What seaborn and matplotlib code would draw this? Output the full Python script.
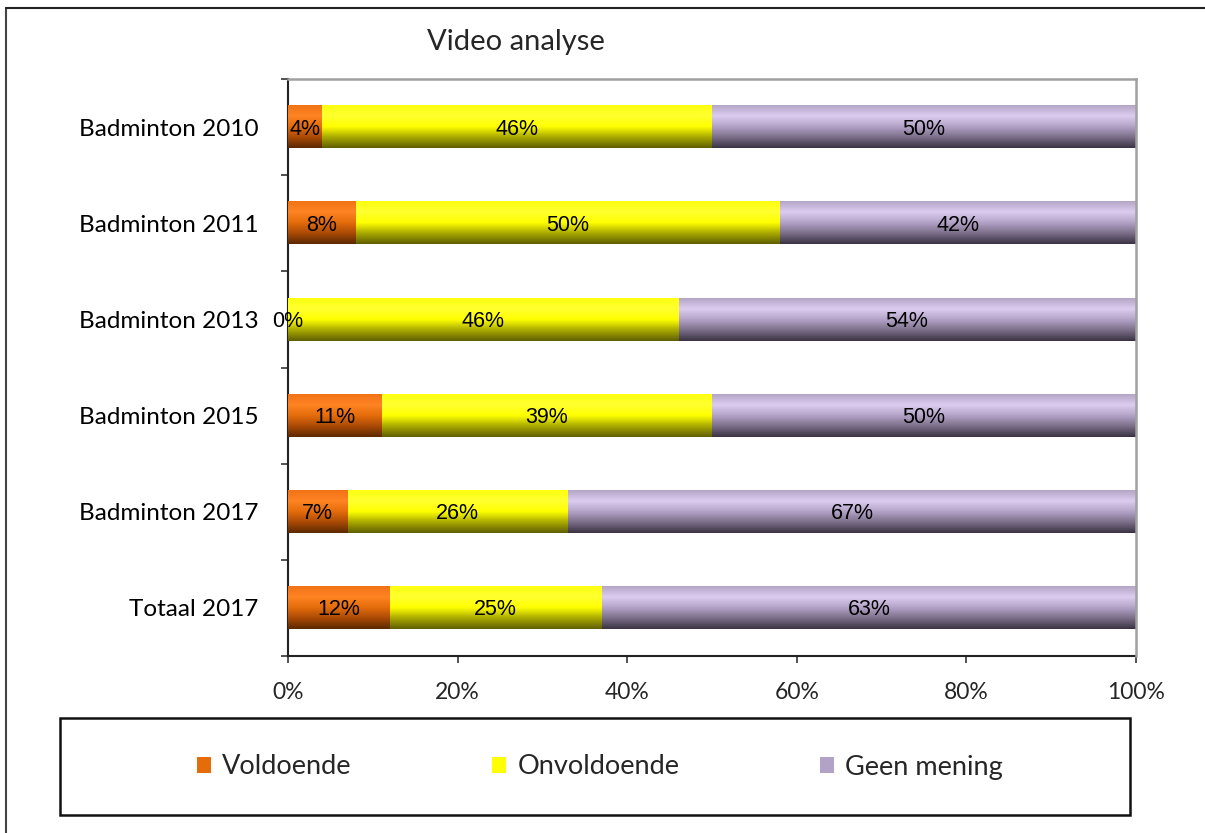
import numpy as np
import pandas as pd
import matplotlib
matplotlib.use("Agg")
import matplotlib.pyplot as plt
import seaborn as sns
from matplotlib.colors import LinearSegmentedColormap
from matplotlib.patches import Patch, Rectangle
from matplotlib.lines import Line2D

# ---- data ----
categories = ["Badminton 2010", "Badminton 2011", "Badminton 2013",
              "Badminton 2015", "Badminton 2017", "Totaal 2017"]
voldoende = [4, 8, 0, 11, 7, 12]
onvoldoende = [46, 50, 46, 39, 26, 25]
geen_mening = [50, 42, 54, 50, 67, 63]
series_names = ["Voldoende", "Onvoldoende", "Geen mening"]
x_ticks = [0, 20, 40, 60, 80, 100]
title = "Video analyse"

legend_colors = ["#E46C0A", "#FFFF00", "#B3A2C7"]
# vertical gradients (top -> bottom)
gradients = [
    ["#F07214", "#FF8424", "#E46C0A", "#A84A06", "#5A2800"],
    ["#FFFF10", "#FFFF30", "#FFFF00", "#A8A800", "#5E5E00"],
    ["#B4A4C6", "#DCCDF0", "#B3A2C7", "#7A6E88", "#3A3242"],
]

sns.set_theme(style="white")
main_font = ["Lato", "DejaVu Sans"]
label_font = ["Liberation Sans Narrow", "Liberation Sans", "DejaVu Sans"]
plt.rcParams["font.family"] = main_font

W, H = 1205, 833
fig = plt.figure(figsize=(W / 100, H / 100), dpi=100)
L, R, T, B = 288, 1136, 79, 656
ax = fig.add_axes([L / W, 1 - B / H, (R - L) / W, (B - T) / H])

df = pd.DataFrame({"cat": categories, "v": voldoende, "o": onvoldoende, "g": geen_mening})
df["c1"] = df["v"]
df["c2"] = df["v"] + df["o"]
df["c3"] = df["v"] + df["o"] + df["g"]

layers = [("c3", 2), ("c2", 1), ("c1", 0)]
bar_w = 0.44
for col, ci in layers:
    n_before = len(ax.patches)
    sns.barplot(data=df, x=col, y="cat", order=categories, orient="h",
                color=legend_colors[ci], width=bar_w, saturation=1,
                linewidth=0, ax=ax, zorder=2 + (2 - ci) * 2)
    cmap = LinearSegmentedColormap.from_list(f"g{ci}", gradients[ci])
    grad = np.linspace(0, 1, 256).reshape(-1, 1)
    for p in ax.patches[n_before:]:
        x0, y0, w, h = p.get_x(), p.get_y(), p.get_width(), p.get_height()
        if w <= 0:
            continue
        ax.imshow(grad, cmap=cmap, aspect="auto",
                  extent=(x0, x0 + w, y0 + h, y0), origin="upper",
                  zorder=3 + (2 - ci) * 2, interpolation="bilinear")

ax.set_xlim(0, 100)
ax.set_ylim(len(categories) - 0.5, -0.5)

# value labels at segment centres
lefts = np.zeros(len(categories))
for vals in [voldoende, onvoldoende, geen_mening]:
    for i, v in enumerate(vals):
        ax.text(lefts[i] + v / 2, i + 0.02, f"{v}%", ha="center", va="center",
                fontsize=15.5, family=label_font, color="black", zorder=20)
    lefts += np.array(vals)

# axes styling
ax.set_xlabel("")
ax.set_ylabel("")
ax.set_xticks(x_ticks)
ax.set_xticklabels([f"{t}%" for t in x_ticks], fontsize=16.5)
ax.set_yticks(range(len(categories)))
ax.set_yticklabels(categories, fontsize=17.5)
ax.set_yticks(np.arange(-0.5, len(categories)), minor=True)
ax.tick_params(axis="y", which="major", length=0, pad=21, colors="black")
ax.tick_params(axis="y", which="minor", length=5, width=1.2, color="#333333", left=True)
ax.tick_params(axis="x", which="major", length=5, width=1.2, color="#333333",
               bottom=True, pad=14)
for s in ["left", "bottom"]:
    ax.spines[s].set_color("#222222")
    ax.spines[s].set_linewidth(1.5)
for s in ["top", "right"]:
    ax.spines[s].set_color("#A0A0A0")
    ax.spines[s].set_linewidth(1.8)
    ax.spines[s].set_zorder(25)
ax.grid(False)

# title
fig.text(516 / W, 1 - 42 / H, title, ha="center", va="center", fontsize=21)

# outer frame (left & top edges)
fig.add_artist(Line2D([6 / W, 6 / W], [0, 1 - 8 / H], color="#444444", lw=1.5,
                      transform=fig.transFigure))
fig.add_artist(Line2D([6 / W, 1], [1 - 8 / H, 1 - 8 / H], color="#222222", lw=1.5,
                      transform=fig.transFigure))

# legend box
lx0, lx1, ly0, ly1 = 60, 1130, 718, 815
fig.add_artist(Rectangle((lx0 / W, 1 - ly1 / H), (lx1 - lx0) / W, (ly1 - ly0) / H,
                         transform=fig.transFigure, fill=False,
                         edgecolor="#111111", lw=1.8))
handles = [Patch(facecolor=c, edgecolor="none") for c in legend_colors]
fig.legend(handles, series_names, loc="center", ncol=3,
           bbox_to_anchor=(600 / W, 1 - 767 / H), frameon=False,
           fontsize=19.5, handlelength=0.52, handleheight=0.52,
           handletextpad=0.4, columnspacing=5.2)

fig.savefig("out.png", dpi=100)
